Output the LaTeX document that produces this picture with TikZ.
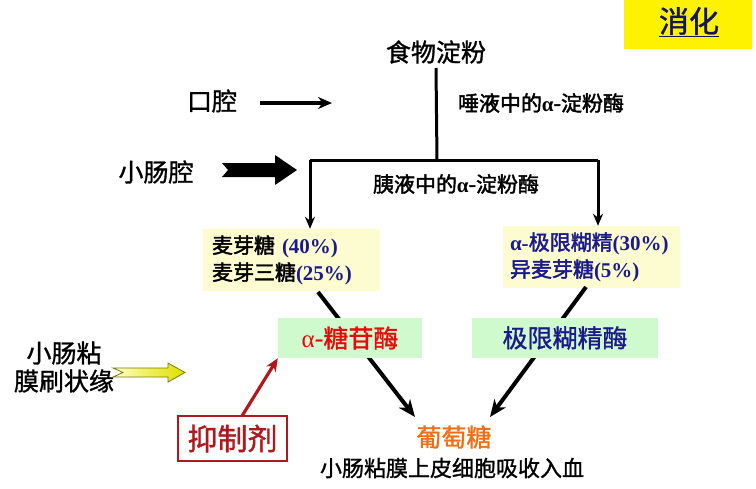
\documentclass[tikz,border=0pt]{standalone}
\usepackage{fontspec}
\setmainfont{Liberation Serif}
\newfontfamily\cjk[FakeBold=1.2]{Noto Sans CJK SC}
\newfontfamily\cjkheavy[FakeBold=2]{Noto Sans CJK SC}
\usetikzlibrary{arrows.meta}
\definecolor{navyblue}{RGB}{26,26,140}
\definecolor{titlenavy}{RGB}{20,20,90}
\definecolor{lightyel}{RGB}{253,251,208}
\definecolor{lightgrn}{RGB}{206,250,206}
\definecolor{enzred}{RGB}{232,10,10}
\definecolor{inhred}{RGB}{176,24,30}
\definecolor{glcorange}{RGB}{240,110,20}
\definecolor{arrowolive}{RGB}{120,120,20}
\tikzset{
  lbl/.style={inner sep=0pt, font=\cjk\fontsize{25}{28}\selectfont},
  smalllbl/.style={inner sep=0pt, font=\cjkheavy\fontsize{21}{24}\selectfont},
  ybox/.style={fill=lightyel, minimum height=62pt, inner ysep=0pt, align=left,
               font=\fontsize{21}{27}\selectfont},
  gbox/.style={fill=lightgrn, minimum width=144pt, minimum height=40pt, inner sep=0pt,
               font=\cjk\fontsize{25}{28}\selectfont},
  flow/.style={line width=3pt, -{Stealth[length=12pt,width=10pt]}},
  conv/.style={line width=4pt, -{Stealth[length=17pt,width=14pt,inset=5pt]}},
}
\begin{document}
\begin{tikzpicture}[x=1pt,y=-1pt]
\useasboundingbox (0,0) rectangle (756,488);

% title
\node[fill=yellow, minimum width=128pt, minimum height=49pt, inner sep=0pt] (titlebox) at (688,24.5) {};
\node[inner sep=0pt, text=titlenavy, font=\cjk\fontsize{30}{32}\selectfont] (title) at (689,22) {\underline{消化}};

% top
\node[lbl] (food) at (436,52) {食物淀粉};
\coordinate (jun) at (437,160);
\coordinate (junL) at (310,160);
\coordinate (junR) at (598,160);
\draw[line width=3pt] (food.south |- 0,68) -- (jun);
\draw[line width=3pt] (junL) -- (junR);

\node[smalllbl] (saliva) at (541,103) {唾液中的{\rmfamily\bfseries α}-淀粉酶};
\node[smalllbl] (pancreas) at (456,184) {胰液中的{\rmfamily\bfseries α}-淀粉酶};

\node[lbl] (mouth) at (212,101) {口腔};
\coordinate (mA) at (260,103);
\coordinate (mB) at (332,103);
\draw[line width=4pt, -{Stealth[length=14pt,width=12pt]}] (mA) -- (mB);

\node[lbl] (gut) at (156,172) {小肠腔};
\fill (222,163) -- (275,163) -- (275,155) -- (297,170) -- (275,185) -- (275,177) -- (222,177) -- (228,170) -- cycle;

% product boxes
\node[ybox, minimum width=177pt, text width=159pt, inner xsep=9pt] (maltose) at (291.5,260)
  {{\cjkheavy 麦芽糖} {\color{navyblue}\bfseries (40\%)}\\{\cjkheavy 麦芽三糖}{\color{navyblue}\bfseries (25\%)}};
\node[ybox, minimum width=177pt, text width=163pt, inner xsep=7pt, text=navyblue] (dextrin) at (591.5,257)
  {{\bfseries α-}{\cjkheavy 极限糊精}{\bfseries (30\%)}\\{\cjkheavy 异麦芽糖}{\bfseries (5\%)}};

\draw[flow] (junL) -- (junL |- maltose.north);
\draw[flow] (junR) -- (junR |- dextrin.north);

% glucose
\node[lbl, text=glcorange] (glucose) at (454,437) {葡萄糖};
\node[inner sep=0pt, font=\cjk\fontsize{22}{24}\selectfont] (absorb) at (452,468) {小肠粘膜上皮细胞吸收入血};
\coordinate (tipL) at (415,417);
\coordinate (tipR) at (490,417);
\coordinate (srcL) at (318,292);
\coordinate (srcR) at (586,287);
\draw[conv] (srcL) -- (tipL);
\draw[conv] (srcR) -- (tipR);

% enzymes
\node[gbox, minimum width=144pt, text=enzred] (gluco) at (350,338) {{\rmfamily α}-糖苷酶};
\node[gbox, minimum width=186pt, text=navyblue] (limit) at (565,338) {极限糊精酶};

% brush border
\node[inner sep=0pt, align=center, font=\cjk\fontsize{25}{28}\selectfont] (brush) at (64,367) {小肠粘\\膜刷状缘};
\shade[left color=yellow!20, right color=yellow!75!olive, draw=arrowolive, line width=0.8pt]
  (113,368) -- (168,368) -- (168,363) -- (185,372.5) -- (168,382) -- (168,377) -- (113,377) -- (123,372.5) -- cycle;

% inhibitor
\node[draw=inhred, line width=1.2pt, minimum width=109pt, minimum height=45pt, inner sep=0pt,
      text=inhred, font=\cjk\fontsize{30}{32}\selectfont] (inhib) at (232.5,438.5) {抑制剂};
\draw[inhred, line width=3.2pt, -{Stealth[length=13pt,width=11pt]}] (242,416) -- (gluco.south west);
\end{tikzpicture}
\end{document}
